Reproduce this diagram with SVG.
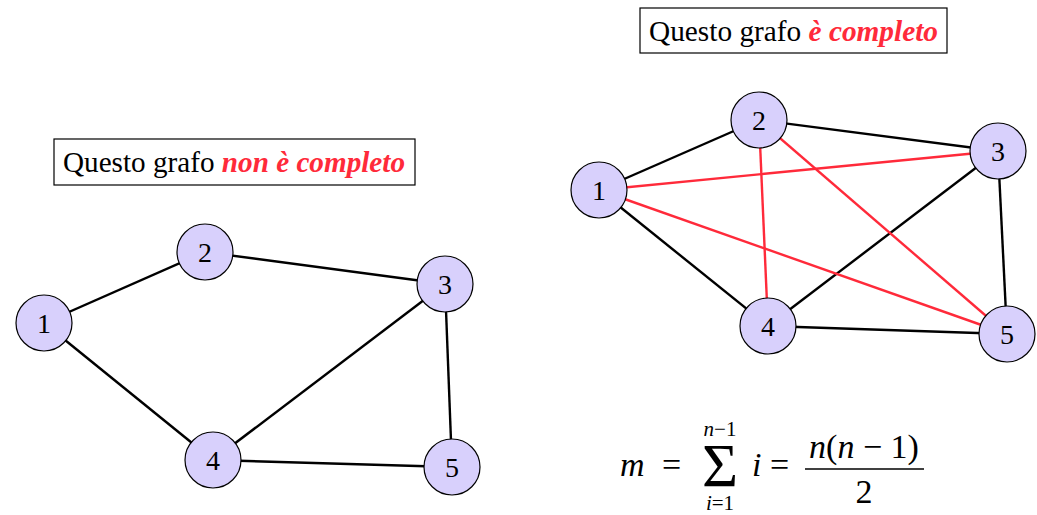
<svg xmlns="http://www.w3.org/2000/svg" width="1037" height="515" viewBox="0 0 1037 515">
<style>
.e{stroke:#000;stroke-width:2.4;fill:none}
.r{stroke:#ff2a3a;stroke-width:2.4;fill:none}
.n{fill:#d8d0fc;stroke:#000;stroke-width:1.2}
.hl{fill:#ff2a3a;font-style:italic;font-weight:bold}
</style>
<rect width="1037" height="515" fill="#fff"/>
<g id="connectors">
<line class="e" x1="44" y1="323" x2="205" y2="252"/>
<line class="e" x1="205" y1="252" x2="445" y2="284"/>
<line class="e" x1="44" y1="323" x2="213" y2="460"/>
<line class="e" x1="445" y1="284" x2="213" y2="460"/>
<line class="e" x1="445" y1="284" x2="452" y2="467"/>
<line class="e" x1="213" y1="460" x2="452" y2="467"/>
<line class="e" x1="599" y1="190" x2="759" y2="120"/>
<line class="e" x1="759" y1="120" x2="998" y2="151"/>
<line class="e" x1="599" y1="190" x2="768" y2="326"/>
<line class="e" x1="998" y1="151" x2="768" y2="326"/>
<line class="e" x1="998" y1="151" x2="1007" y2="334"/>
<line class="e" x1="768" y1="326" x2="1007" y2="334"/>
<line class="r" x1="599" y1="190" x2="998" y2="151"/>
<line class="r" x1="599" y1="190" x2="1007" y2="334"/>
<line class="r" x1="759" y1="120" x2="768" y2="326"/>
<line class="r" x1="759" y1="120" x2="1007" y2="334"/>
</g>
<g id="L1"><circle class="n" cx="44" cy="323" r="28"/><text font-family="Liberation Serif, serif" font-size="28" text-anchor="middle" x="44" y="333">1</text></g>
<g id="L2"><circle class="n" cx="205" cy="252" r="28"/><text font-family="Liberation Serif, serif" font-size="28" text-anchor="middle" x="205" y="262">2</text></g>
<g id="L3"><circle class="n" cx="445" cy="284" r="28"/><text font-family="Liberation Serif, serif" font-size="28" text-anchor="middle" x="445" y="294">3</text></g>
<g id="L4"><circle class="n" cx="213" cy="460" r="28"/><text font-family="Liberation Serif, serif" font-size="28" text-anchor="middle" x="213" y="470">4</text></g>
<g id="L5"><circle class="n" cx="452" cy="467" r="28"/><text font-family="Liberation Serif, serif" font-size="28" text-anchor="middle" x="452" y="477">5</text></g>
<g id="R1"><circle class="n" cx="599" cy="190" r="28"/><text font-family="Liberation Serif, serif" font-size="28" text-anchor="middle" x="599" y="200">1</text></g>
<g id="R2"><circle class="n" cx="759" cy="120" r="28"/><text font-family="Liberation Serif, serif" font-size="28" text-anchor="middle" x="759" y="130">2</text></g>
<g id="R3"><circle class="n" cx="998" cy="151" r="28"/><text font-family="Liberation Serif, serif" font-size="28" text-anchor="middle" x="998" y="161">3</text></g>
<g id="R4"><circle class="n" cx="768" cy="326" r="28"/><text font-family="Liberation Serif, serif" font-size="28" text-anchor="middle" x="768" y="336">4</text></g>
<g id="R5"><circle class="n" cx="1007" cy="334" r="28"/><text font-family="Liberation Serif, serif" font-size="28" text-anchor="middle" x="1007" y="344">5</text></g>
<g id="label-left">
<rect x="54" y="139" width="361" height="46" fill="#fff" stroke="#000" stroke-width="1.2"/>
<text font-family="Liberation Serif, serif" font-size="29" x="63" y="172" textLength="342" lengthAdjust="spacingAndGlyphs">Questo grafo <tspan class="hl">non &#232; completo</tspan></text>
</g>
<g id="label-right">
<rect x="640" y="8" width="307" height="45" fill="#fff" stroke="#000" stroke-width="1.2"/>
<text font-family="Liberation Serif, serif" font-size="29" x="649" y="41" textLength="289" lengthAdjust="spacingAndGlyphs">Questo grafo <tspan class="hl">&#232; completo</tspan></text>
</g>
<g id="formula">
<text font-family="Liberation Serif, serif" x="620" y="476" font-size="34" font-style="italic">m</text>
<text font-family="Liberation Serif, serif" x="662" y="476" font-size="34">=</text>
<text font-family="Liberation Serif, serif" x="720" y="486" font-size="62" text-anchor="middle">&#931;</text>
<text font-family="Liberation Serif, serif" x="720" y="436" font-size="21" text-anchor="middle"><tspan font-style="italic">n</tspan>&#8722;1</text>
<text font-family="Liberation Serif, serif" x="720" y="510" font-size="21" text-anchor="middle"><tspan font-style="italic">i</tspan>=1</text>
<text font-family="Liberation Serif, serif" x="752" y="476" font-size="34" font-style="italic">i</text>
<text font-family="Liberation Serif, serif" x="770" y="476" font-size="34">=</text>
<text font-family="Liberation Serif, serif" x="864" y="458" font-size="34" text-anchor="middle"><tspan font-style="italic">n</tspan>(<tspan font-style="italic">n</tspan> &#8722; 1)</text>
<line x1="805" y1="469" x2="924" y2="469" stroke="#000" stroke-width="1.5"/>
<text font-family="Liberation Serif, serif" x="864" y="503" font-size="34" text-anchor="middle">2</text>
</g>
</svg>
